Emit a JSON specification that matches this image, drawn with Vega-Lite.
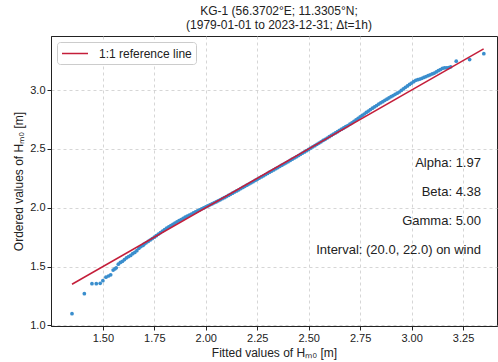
{
  "$schema": "https://vega.github.io/schema/vega-lite/v6.json",
  "width": 446,
  "height": 290,
  "autosize": {"type": "none"},
  "padding": {"left": 51, "top": 36, "right": 1, "bottom": 36},
  "background": "white",
  "config": {
    "font": "Liberation Sans",
    "view": {"stroke": "#222", "strokeWidth": 1},
    "axis": {
      "domainColor": "#222",
      "tickColor": "#222",
      "tickSize": 4,
      "labelFontSize": 11,
      "labelColor": "#222",
      "labelPadding": 2,
      "titleFontSize": 12,
      "titleFontWeight": "normal",
      "titleColor": "#222",
      "titlePadding": 4,
      "gridColor": "#cccccc",
      "gridDash": [3, 3],
      "gridWidth": 0.8
    },
    "legend": {
      "orient": "top-left",
      "offset": 6,
      "symbolType": "M-1,0H3",
      "symbolSize": 169,
      "symbolStrokeWidth": 1.5,
      "labelFontSize": 12,
      "labelColor": "#222",
      "labelOffset": 23,
      "padding": 4,
      "fillColor": "white",
      "strokeColor": "#cccccc",
      "cornerRadius": 3
    }
  },
  "title": {
    "text": ["KG-1 (56.3702°E; 11.3305°N;", "(1979-01-01 to 2023-12-31; Δt=1h)"],
    "fontSize": 12,
    "fontWeight": "normal",
    "color": "#222",
    "anchor": "middle",
    "dx": 5,
    "offset": 4,
    "lineHeight": 14
  },
  "layer": [
    {
      "data": {"values": [
        {"x":1.35,"y":1.10},{"x":1.41,"y":1.27},{"x":1.447,"y":1.355},{"x":1.468,"y":1.355},{"x":1.487,"y":1.358},
        {"x":1.50,"y":1.38},{"x":1.515,"y":1.41},{"x":1.527,"y":1.42},{"x":1.538,"y":1.43},{"x":1.55,"y":1.47},
        {"x":1.558,"y":1.48},{"x":1.565,"y":1.49},{"x":1.575,"y":1.52},{"x":1.585,"y":1.535},{"x":1.595,"y":1.545},
        {"x":1.605,"y":1.56},{"x":1.615,"y":1.575},{"x":1.625,"y":1.585},{"x":1.635,"y":1.595},{"x":1.645,"y":1.61},
        {"x":1.655,"y":1.62},{"x":1.665,"y":1.635},{"x":1.675,"y":1.655},{"x":1.685,"y":1.67},{"x":1.695,"y":1.68},
        {"x":1.70,"y":1.69},{"x":1.71,"y":1.702},{"x":1.72,"y":1.714},{"x":1.73,"y":1.726},{"x":1.74,"y":1.738},
        {"x":1.75,"y":1.75},{"x":1.76,"y":1.763},{"x":1.77,"y":1.776},{"x":1.78,"y":1.789},{"x":1.79,"y":1.802},
        {"x":1.80,"y":1.815},{"x":1.81,"y":1.826},{"x":1.82,"y":1.837},{"x":1.83,"y":1.848},{"x":1.84,"y":1.859},
        {"x":1.85,"y":1.87},{"x":1.86,"y":1.88},{"x":1.87,"y":1.89},{"x":1.88,"y":1.90},{"x":1.89,"y":1.91},
        {"x":1.90,"y":1.92},{"x":1.91,"y":1.929},{"x":1.92,"y":1.938},{"x":1.93,"y":1.947},{"x":1.94,"y":1.956},
        {"x":1.95,"y":1.965},{"x":1.96,"y":1.974},{"x":1.97,"y":1.982},{"x":1.98,"y":1.991},{"x":1.99,"y":1.999},
        {"x":2.00,"y":2.008},{"x":2.01,"y":2.016},{"x":2.02,"y":2.025},{"x":2.03,"y":2.033},{"x":2.04,"y":2.042},
        {"x":2.05,"y":2.05},{"x":2.06,"y":2.059},{"x":2.07,"y":2.068},{"x":2.08,"y":2.077},{"x":2.09,"y":2.086},
        {"x":2.10,"y":2.095},{"x":2.11,"y":2.105},{"x":2.12,"y":2.114},{"x":2.13,"y":2.124},{"x":2.14,"y":2.134},
        {"x":2.15,"y":2.143},{"x":2.16,"y":2.153},{"x":2.17,"y":2.163},{"x":2.18,"y":2.173},{"x":2.19,"y":2.182},
        {"x":2.20,"y":2.192},{"x":2.21,"y":2.202},{"x":2.22,"y":2.212},{"x":2.23,"y":2.222},{"x":2.24,"y":2.232},
        {"x":2.25,"y":2.242},{"x":2.26,"y":2.252},{"x":2.27,"y":2.262},{"x":2.28,"y":2.272},{"x":2.29,"y":2.282},
        {"x":2.30,"y":2.292},{"x":2.31,"y":2.302},{"x":2.32,"y":2.312},{"x":2.33,"y":2.322},{"x":2.34,"y":2.332},
        {"x":2.35,"y":2.342},{"x":2.36,"y":2.352},{"x":2.37,"y":2.362},{"x":2.38,"y":2.372},{"x":2.39,"y":2.382},
        {"x":2.40,"y":2.392},{"x":2.41,"y":2.402},{"x":2.42,"y":2.413},{"x":2.43,"y":2.423},{"x":2.44,"y":2.433},
        {"x":2.45,"y":2.444},{"x":2.46,"y":2.454},{"x":2.47,"y":2.465},{"x":2.48,"y":2.475},{"x":2.49,"y":2.485},
        {"x":2.50,"y":2.496},{"x":2.51,"y":2.507},{"x":2.52,"y":2.518},{"x":2.53,"y":2.528},{"x":2.54,"y":2.539},
        {"x":2.55,"y":2.55},{"x":2.56,"y":2.561},{"x":2.57,"y":2.572},{"x":2.58,"y":2.582},{"x":2.59,"y":2.593},
        {"x":2.60,"y":2.604},{"x":2.61,"y":2.615},{"x":2.62,"y":2.626},{"x":2.63,"y":2.636},{"x":2.64,"y":2.647},
        {"x":2.65,"y":2.658},{"x":2.66,"y":2.668},{"x":2.67,"y":2.679},{"x":2.68,"y":2.689},{"x":2.69,"y":2.699},
        {"x":2.70,"y":2.71},{"x":2.71,"y":2.722},{"x":2.72,"y":2.735},{"x":2.73,"y":2.747},{"x":2.74,"y":2.76},
        {"x":2.75,"y":2.772},{"x":2.76,"y":2.785},{"x":2.77,"y":2.797},{"x":2.78,"y":2.81},{"x":2.79,"y":2.822},
        {"x":2.80,"y":2.835},{"x":2.81,"y":2.846},{"x":2.82,"y":2.858},{"x":2.83,"y":2.869},{"x":2.84,"y":2.881},
        {"x":2.85,"y":2.892},{"x":2.86,"y":2.902},{"x":2.87,"y":2.913},{"x":2.88,"y":2.923},{"x":2.89,"y":2.934},
        {"x":2.90,"y":2.944},{"x":2.91,"y":2.954},{"x":2.92,"y":2.964},{"x":2.93,"y":2.974},{"x":2.94,"y":2.984},
        {"x":2.95,"y":2.997},{"x":2.96,"y":3.01},{"x":2.97,"y":3.024},{"x":2.98,"y":3.036},{"x":2.99,"y":3.048},
        {"x":3.00,"y":3.06},{"x":3.01,"y":3.072},{"x":3.02,"y":3.083},{"x":3.03,"y":3.089},{"x":3.04,"y":3.094},
        {"x":3.05,"y":3.10},{"x":3.06,"y":3.108},{"x":3.07,"y":3.115},{"x":3.08,"y":3.123},{"x":3.09,"y":3.13},
        {"x":3.10,"y":3.138},{"x":3.11,"y":3.145},{"x":3.12,"y":3.155},{"x":3.13,"y":3.165},{"x":3.14,"y":3.175},
        {"x":3.15,"y":3.185},{"x":3.16,"y":3.19},{"x":3.17,"y":3.19},{"x":3.18,"y":3.192},{"x":3.19,"y":3.198},
        {"x":3.217,"y":3.246},{"x":3.282,"y":3.26},{"x":3.351,"y":3.31}
      ]},
      "mark": {"type": "circle", "size": 14, "color": "#3a8ecd", "opacity": 1},
      "encoding": {
        "x": {
          "field": "x", "type": "quantitative",
          "scale": {"domain": [1.248, 3.415], "nice": false, "zero": false},
          "axis": {"values": [1.5, 1.75, 2.0, 2.25, 2.5, 2.75, 3.0, 3.25], "format": ".2f", "title": "Fitted values of Hₘ₀ [m]"}
        },
        "y": {
          "field": "y", "type": "quantitative",
          "scale": {"domain": [0.995, 3.46], "nice": false, "zero": false},
          "axis": {"values": [1.0, 1.5, 2.0, 2.5, 3.0], "format": ".1f", "title": "Ordered values of Hₘ₀ [m]"}
        }
      }
    },
    {
      "data": {"values": [
        {"x": 1.35, "y": 1.35, "series": "1:1 reference line"},
        {"x": 3.35, "y": 3.35, "series": "1:1 reference line"}
      ]},
      "mark": {"type": "line", "strokeWidth": 1.5},
      "encoding": {
        "x": {"field": "x", "type": "quantitative"},
        "y": {"field": "y", "type": "quantitative"},
        "color": {
          "field": "series", "type": "nominal",
          "scale": {"range": ["#c41e3a"]},
          "legend": {"title": null}
        }
      }
    },
    {
      "data": {"values": [
        {"label": "Alpha: 1.97", "xpos": 3.337, "ypos": 2.381},
        {"label": "Beta: 4.38", "xpos": 3.337, "ypos": 2.136},
        {"label": "Gamma: 5.00", "xpos": 3.337, "ypos": 1.89},
        {"label": "Interval: (20.0, 22.0) on wind", "xpos": 3.337, "ypos": 1.644}
      ]},
      "mark": {"type": "text", "fontSize": 13, "align": "right", "baseline": "middle", "color": "#222"},
      "encoding": {
        "x": {"field": "xpos", "type": "quantitative"},
        "y": {"field": "ypos", "type": "quantitative"},
        "text": {"field": "label"}
      }
    }
  ]
}
